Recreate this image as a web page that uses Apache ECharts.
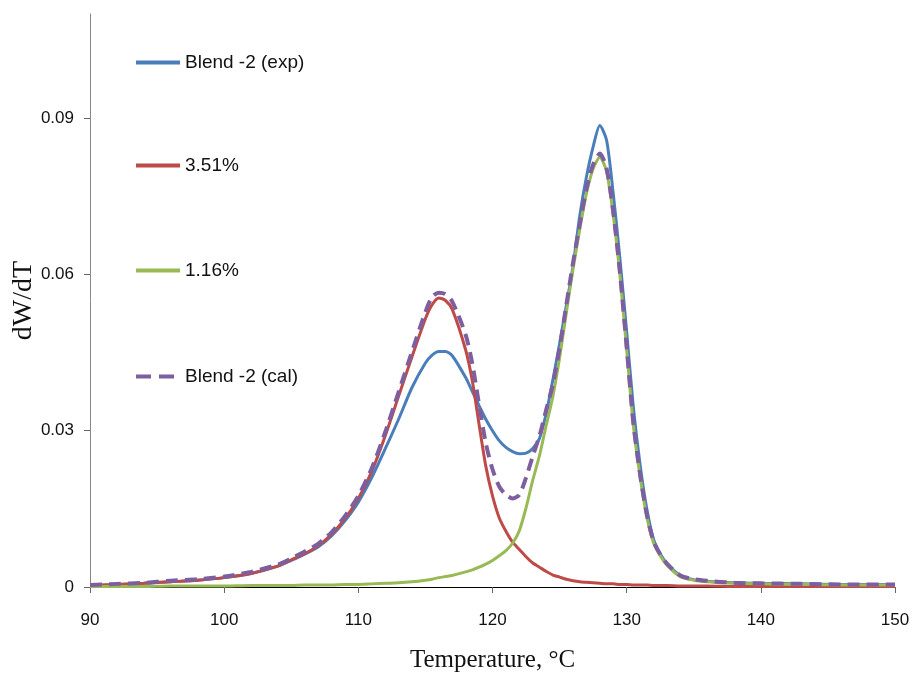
<!DOCTYPE html>
<html>
<head>
<meta charset="utf-8">
<script src="https://cdn.jsdelivr.net/npm/echarts@6/dist/echarts.min.js"></script>
<style>
html,body{margin:0;padding:0;background:#fff;}
#chart{width:913px;height:678px;}
</style>
</head>
<body>
<div id="chart"></div>
<script>
const temps = [90,92,94,96,98,100,102,104,105,106,107,108,109,110,111,112,113,114,115,115.5,116,116.5,117,118,118.5,119,119.5,120,120.5,121,121.5,122,122.5,123,123.5,124,124.5,125,125.5,126,126.5,127,127.5,128,128.5,129,129.5,130,130.5,131,131.5,132,132.5,133,134,135,136,138,140,143,146,150];

const blendExp = [0.0003,0.0005,0.0007,0.0010,0.0013,0.0018,0.0026,0.0040,0.0051,0.0063,0.0077,0.0098,0.0127,0.0163,0.0210,0.0265,0.0322,0.0383,0.0430,0.0445,0.0452,0.0452,0.0444,0.0402,0.0375,0.0348,0.0322,0.0300,0.0281,0.0268,0.0260,0.0256,0.0257,0.0266,0.0285,0.0333,0.0398,0.0467,0.0540,0.0616,0.0712,0.0787,0.0845,0.0886,0.0858,0.0755,0.0630,0.0490,0.0345,0.0235,0.0150,0.0092,0.0064,0.0045,0.0022,0.0014,0.0011,0.0008,0.0007,0.0006,0.0005,0.0005];

const pct351 = [0.0003,0.0005,0.0007,0.0010,0.0013,0.0018,0.0026,0.0040,0.0052,0.0064,0.0079,0.0101,0.0131,0.0170,0.0222,0.0290,0.0366,0.0442,0.0515,0.0542,0.0555,0.0550,0.0533,0.0455,0.0395,0.0312,0.0232,0.0175,0.0133,0.0107,0.0086,0.0072,0.0058,0.0046,0.0038,0.0030,0.0023,0.0019,0.0015,0.0012,0.0010,0.0009,0.0008,0.0007,0.0006,0.0006,0.0005,0.0005,0.0004,0.0004,0.0004,0.0003,0.0003,0.0003,0.0002,0.0002,0.0002,0.0001,0.0001,0.0001,0.0001,0.0001];

const pct116 = [0.0001,0.0001,0.0001,0.0002,0.0002,0.0002,0.0003,0.0003,0.0003,0.0004,0.0004,0.0004,0.0005,0.0005,0.0006,0.0007,0.0008,0.0010,0.0013,0.0015,0.0018,0.0020,0.0022,0.0029,0.0033,0.0038,0.0044,0.0051,0.0060,0.0070,0.0084,0.0108,0.0152,0.0205,0.0252,0.0310,0.0366,0.0440,0.0526,0.0610,0.0686,0.0755,0.0803,0.0825,0.0798,0.0714,0.0598,0.0455,0.0310,0.0212,0.0135,0.0085,0.0060,0.0042,0.0020,0.0013,0.0010,0.0007,0.0006,0.0005,0.0004,0.0004];

const blendCal = [0.0004,0.0006,0.0008,0.0012,0.0015,0.0020,0.0029,0.0043,0.0055,0.0068,0.0083,0.0105,0.0136,0.0175,0.0228,0.0297,0.0374,0.0452,0.0528,0.0557,0.0565,0.0562,0.0548,0.0484,0.0428,0.0350,0.0276,0.0226,0.0193,0.0177,0.0170,0.0177,0.0210,0.0251,0.0290,0.0340,0.0389,0.0459,0.0541,0.0622,0.0696,0.0764,0.0811,0.0832,0.0804,0.0720,0.0603,0.0460,0.0314,0.0216,0.0139,0.0088,0.0063,0.0045,0.0022,0.0015,0.0012,0.0008,0.0007,0.0006,0.0005,0.0005];

const seriesNames = ['Blend -2 (exp)', '3.51%', '1.16%', 'Blend -2 (cal)'];
const yTicks = [0, 0.03, 0.06, 0.09];
const xTicks = [90, 100, 110, 120, 130, 140, 150];

const colors = ['#4a7ebb', '#be4b48', '#98b954', '#7d5fa0'];
const legendCenters = [61, 164, 269, 375];

const pair = arr => temps.map((t, i) => [t, arr[i]]);
const allData = [blendExp, pct351, pct116, blendCal];

const sans = '"Liberation Sans", Arial, sans-serif';
const serif = '"Liberation Serif", "DejaVu Serif", serif';

const chart = echarts.init(document.getElementById('chart'), null, {renderer: 'canvas'});
chart.setOption({
  animation: false,
  backgroundColor: '#ffffff',
  grid: {left: 90, right: 18, top: 14, bottom: 91, containLabel: false, outerBoundsMode: 'none'},
  legend: seriesNames.map((n, i) => ({
    data: [n],
    orient: 'vertical',
    left: 134,
    top: legendCenters[i] - 8,
    padding: 0,
    itemWidth: 44,
    itemHeight: 14,
    itemGap: 0,
    itemStyle: {opacity: 0},
    lineStyle: i === 3 ? {width: 4, type: [15, 8]} : {width: 4},
    textStyle: {fontFamily: sans, fontSize: 19, color: '#111'},
    selectedMode: false
  })),
  xAxis: {
    type: 'value', min: 90, max: 150, interval: 10,
    axisLine: {show: true, onZero: false, lineStyle: {color: '#000', width: 1}},
    axisTick: {show: true, length: 6, lineStyle: {color: '#666'}},
    axisLabel: {margin: 25, fontFamily: sans, fontSize: 17, color: '#111',
      customValues: xTicks},
    splitLine: {show: false},
    name: 'Temperature, \u00B0C',
    nameLocation: 'middle',
    nameGap: 61,
    nameMoveOverlap: false,
    nameTextStyle: {fontFamily: serif, fontSize: 25, color: '#111'}
  },
  yAxis: {
    type: 'value', min: 0, max: 0.11,
    axisLine: {show: true, lineStyle: {color: '#888', width: 1}},
    axisTick: {show: true, length: 6, lineStyle: {color: '#666'}, customValues: yTicks},
    axisLabel: {margin: 16, fontFamily: sans, fontSize: 17, color: '#111', customValues: yTicks,
      formatter: v => (v === 0 ? '0' : v.toFixed(2))},
    splitLine: {show: false},
    name: 'dW/dT',
    nameLocation: 'middle',
    nameGap: 52,
    nameMoveOverlap: false,
    nameTextStyle: {fontFamily: serif, fontSize: 28, color: '#111'}
  },
  series: seriesNames.map((n, i) => ({
    name: n,
    type: 'line',
    data: pair(allData[i]),
    showSymbol: false,
    symbol: 'none',
    smooth: 0.25,
    color: colors[i],
    lineStyle: i === 3
      ? {color: colors[i], width: 4, type: [12, 7]}
      : {color: colors[i], width: 3},
    z: 2 + i
  }))
});
</script>
</body>
</html>
